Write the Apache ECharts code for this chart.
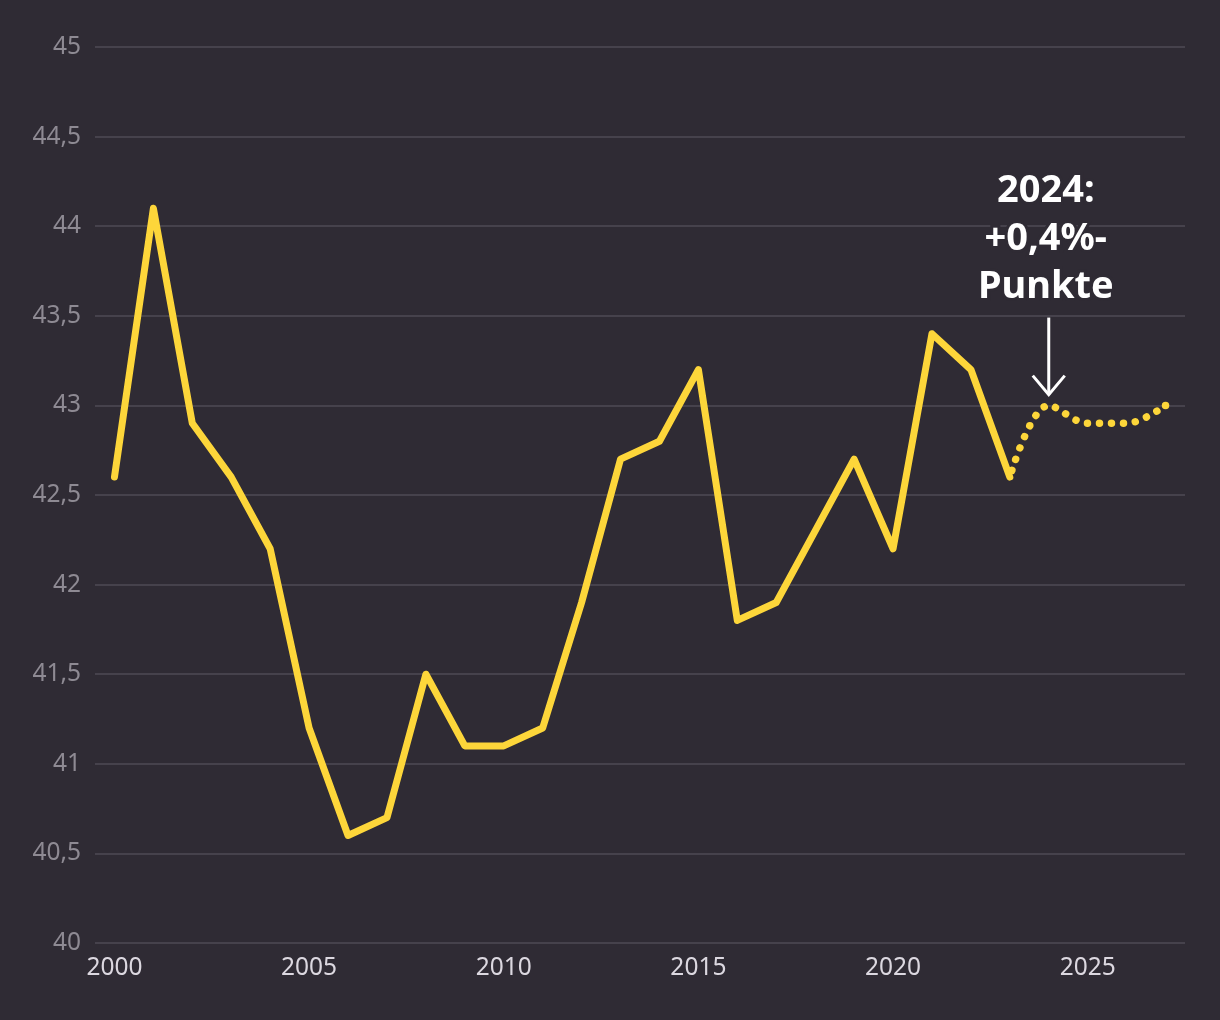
<!DOCTYPE html>
<html>
<head>
<meta charset="utf-8">
<script src="https://cdn.jsdelivr.net/npm/echarts@6/dist/echarts.min.js"></script>
<style>
html,body{margin:0;padding:0;background:#2f2b34;}
#chart{width:1220px;height:1020px;}
</style>
</head>
<body>
<div id="chart"></div>
<script>
const years = ['2000','2001','2002','2003','2004','2005','2006','2007','2008','2009','2010','2011','2012','2013','2014','2015','2016','2017','2018','2019','2020','2021','2022','2023','2024','2025','2026','2027'];
const actual = [42.6,44.1,42.9,42.6,42.2,41.2,40.6,40.7,41.5,41.1,41.1,41.2,41.9,42.7,42.8,43.2,41.8,41.9,42.3,42.7,42.2,43.4,43.2,42.6];
const forecastYears = ['2023','2024','2025','2026','2027'];
const forecast = [42.6,43.0,42.9,42.9,43.0];
const yTicks = {min:40, max:45, interval:0.5};
const annotationText = '2024:\n+0,4%-\nPunkte';
const annotationYear = '2024';

const solidData = years.map((y,i)=> i < actual.length ? actual[i] : null);
const dottedData = years.map(y => { const k = forecastYears.indexOf(y); return k >= 0 ? forecast[k] : null; });
const lastIdx = years.length - 1;

const bg = '#2f2b34';
const lineColor = '#fdd63a';
const font = '"Noto Sans", "Open Sans", sans-serif';

const chart = echarts.init(document.getElementById('chart'));
chart.setOption({
  backgroundColor: bg,
  animation: false,
  textStyle: {fontFamily: font},
  grid: {left:95, right:35, top:47, bottom:77, containLabel:false},
  xAxis: {
    type:'category', data: years, boundaryGap: true,
    axisLine:{show:false}, axisTick:{show:false},
    axisLabel:{
      color:'#dcd8e0', fontSize:24.5, fontFamily:font, margin:13,
      interval:(i,v)=> (+v)%5===0
    },
    splitLine:{show:false}
  },
  yAxis: {
    type:'value', min:yTicks.min, max:yTicks.max, interval:yTicks.interval,
    axisLine:{show:false}, axisTick:{show:false},
    axisLabel:{color:'#8e8a93', fontSize:24.5, fontFamily:font, margin:14,
      formatter:v=> String(v).replace('.',',')},
    splitLine:{lineStyle:{color:'#4f4b54', width:1.5}}
  },
  series: [
    {type:'line', data: solidData, symbol:'none', connectNulls:false,
     lineStyle:{color:lineColor, width:7, cap:'round', join:'round'}},
    {type:'line', data: dottedData, smooth:0.35,
     symbol:'circle', showAllSymbol:true,
     symbolSize:(v,p)=> p.dataIndex === lastIdx ? 7.5 : 0,
     itemStyle:{color:lineColor, borderWidth:0},
     lineStyle:{color:lineColor, width:7.5, type:[0.01, 12], cap:'round', dashOffset:-7}}
  ]
});

function drawAnnotation(){
  const top = chart.convertToPixel({gridIndex:0}, [annotationYear, 43.49]);
  const tip = chart.convertToPixel({gridIndex:0}, [annotationYear, 43.06]);
  const textPos = chart.convertToPixel({gridIndex:0}, [annotationYear, 43.93]);
  const x = top[0];
  chart.setOption({
    graphic: [
      {type:'line', shape:{x1:x, y1:top[1], x2:x, y2:tip[1]},
       style:{stroke:'#ffffff', lineWidth:3}},
      {type:'polyline', shape:{points:[[x-16, tip[1]-19],[x, tip[1]],[x+16, tip[1]-19]]},
       style:{stroke:'#ffffff', lineWidth:3, fill:null}},
      {type:'text', x:x-3, y:textPos[1],
       style:{text:annotationText, fill:'#ffffff', font:'bold 38px ' + font,
         align:'center', verticalAlign:'middle', lineHeight:48,
         stroke:bg, lineWidth:6}}
    ]
  });
}
drawAnnotation();
</script>
</body>
</html>
